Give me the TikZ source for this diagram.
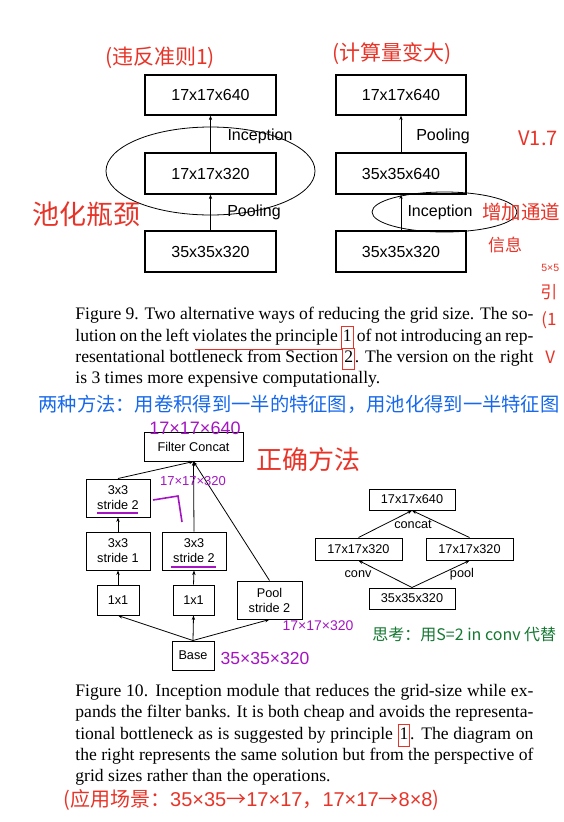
\documentclass[tikz,border=0pt]{standalone}
\usepackage{fontspec}
\setmainfont{Liberation Serif}
\setsansfont{Liberation Sans}
\newfontfamily\cjk{Noto Sans CJK SC}
\usetikzlibrary{arrows.meta}
\definecolor{penred}{RGB}{232,52,40}
\definecolor{penblue}{RGB}{22,104,236}
\definecolor{penpurple}{RGB}{165,20,195}
\definecolor{pengreen}{RGB}{20,120,50}
\newcommand{\linkbox}[1]{{\setlength{\fboxsep}{0.8pt}\setlength{\fboxrule}{1pt}\color{penred}\fbox{\color{black}\rule[-6pt]{0pt}{19pt}#1}}}
\begin{document}
\begin{tikzpicture}[x=1pt,y=-1pt,>={Stealth[length=4.5pt,width=3.4pt]},line width=0.8pt,
  blk9/.style={draw,line width=1.2pt,inner sep=0pt,font=\sffamily\fontsize{16}{19}\selectfont},
  blk10/.style={draw,line width=1pt,inner sep=0pt,align=center,font=\sffamily\fontsize{12.7}{15}\selectfont},
  lbl9/.style={inner sep=0pt,font=\sffamily\fontsize{16}{19}\selectfont},
  lbl10/.style={inner sep=0pt,font=\sffamily\fontsize{12.7}{15}\selectfont},
  capline/.style={anchor=base west,inner sep=0pt,font=\fontsize{17.6}{21}\selectfont},
  pen/.style={inner sep=0pt,font=\cjk\fontsize{#1}{#1}\selectfont},
  num/.style={inner sep=0pt,text=penpurple,font=\sffamily\fontsize{#1}{#1}\selectfont}]
  \fill[white] (0,0) rectangle (563,822);
  \useasboundingbox (0,0) rectangle (563,822);

  % Figure 9, links
  \node[blk9,minimum width=131pt,minimum height=40pt] (lTop) at (210.5,95) {17x17x640};
  \node[blk9,minimum width=131pt,minimum height=41pt] (lMid) at (210.5,173.5) {17x17x320};
  \node[blk9,minimum width=131pt,minimum height=41pt] (lBot) at (210.5,251.5) {35x35x320};
  \node[lbl9] (lInc) at (260,136) {Inception};
  \node[lbl9] (lPool) at (254,212) {Pooling};
  \draw[->] (lBot.north) -- (lMid.south);
  \draw[->] (lMid.north) -- (lTop.south);
  \draw (210.5,171) ellipse (104.5 and 44);

  % Figure 9, rechts
  \node[blk9,minimum width=130pt,minimum height=40pt] (rTop) at (401,95) {17x17x640};
  \node[blk9,minimum width=130pt,minimum height=41pt] (rMid) at (401,173.5) {35x35x640};
  \node[blk9,minimum width=130pt,minimum height=41pt] (rBot) at (401,251.5) {35x35x320};
  \node[lbl9] (rPool) at (443,136) {Pooling};
  \node[lbl9] (rInc) at (440,212) {Inception};
  \draw[->] (rBot.north) -- (rMid.south);
  \draw[->] (rMid.north) -- (rTop.south);
  \draw (444.5,212) ellipse (72.5 and 20);

  % Bildunterschrift 9
  \node[capline] (capA1) at (75,319) {\makebox[458pt][s]{Figure 9. Two alternative ways of reducing the grid size. The so-}};
  \node[capline] (capA2) at (75,341) {\makebox[458pt][s]{lution on the left violates the principle \linkbox{1} of not introducing an rep-}};
  \node[capline] (capA3) at (75,362.5) {\makebox[458pt][s]{resentational bottleneck from Section \linkbox{2}. The version on the right}};
  \node[capline] (capA4) at (75,383) {is 3 times more expensive computationally.};
  \draw[penred,line width=1pt] (195,349) -- (342,349);

  % Figure 10, Module
  \node[blk10,minimum width=99pt,minimum height=29pt] (concat) at (193.5,446.5) {Filter Concat};
  \node[blk10,minimum width=64pt,minimum height=38pt] (cA3) at (118,498) {3x3\\stride 2};
  \node[blk10,minimum width=64pt,minimum height=38pt] (cA2) at (118,551) {3x3\\stride 1};
  \node[blk10,minimum width=64pt,minimum height=38pt] (cB2) at (194,551) {3x3\\stride 2};
  \node[blk10,minimum width=42pt,minimum height=30pt] (cA1) at (118,600) {1x1};
  \node[blk10,minimum width=41pt,minimum height=30pt] (cB1) at (193.5,600) {1x1};
  \node[blk10,minimum width=65pt,minimum height=38pt] (pool) at (269.5,600) {Pool\\stride 2};
  \node[blk10,minimum width=42pt,minimum height=29pt] (base) at (193,655.5) {Base};
  \draw[->] (base.north) -- (cA1.south);
  \draw[->] (base.north) -- (cB1.south);
  \draw[->] (base.north) -- (pool.south);
  \draw[->] (cA1.north) -- (cA2.south);
  \draw[->] (cA2.north) -- (cA3.south);
  \draw[->] (cB1.north) -- (cB2.south);
  \draw[->] (cA3.north) -- (concat.south);
  \draw[->] (cB2.north) -- (concat.south);
  \draw[->] (pool.north) -- (concat.south);

  % Figure 10, Gittergroessen
  \node[blk10,minimum width=86pt,minimum height=21pt] (g640) at (412,499.5) {17x17x640};
  \node[blk10,minimum width=87pt,minimum height=22pt] (gConv) at (358.5,549) {17x17x320};
  \node[blk10,minimum width=87pt,minimum height=22pt] (gPool) at (469.5,549) {17x17x320};
  \node[blk10,minimum width=86pt,minimum height=21pt] (g320) at (412,598.5) {35x35x320};
  \draw[->] (g320.north) -- (gConv.south);
  \draw[->] (g320.north) -- (gPool.south);
  \draw[->] (gConv.north) -- (g640.south);
  \draw[->] (gPool.north) -- (g640.south);
  \node[lbl10] (tConcat) at (413,524) {concat};
  \node[lbl10] (tConv) at (358,574) {conv};
  \node[lbl10] (tPool) at (462,574) {pool};

  % Bildunterschrift 10
  \node[capline] (capB1) at (75,696.7) {\makebox[458pt][s]{Figure 10. Inception module that reduces the grid-size while ex-}};
  \node[capline] (capB2) at (75,717.7) {\makebox[458pt][s]{pands the filter banks. It is both cheap and avoids the representa-}};
  \node[capline] (capB3) at (75,739) {\makebox[458pt][s]{tional bottleneck as is suggested by principle \linkbox{1}. The diagram on}};
  \node[capline] (capB4) at (75,760) {\makebox[458pt][s]{the right represents the same solution but from the perspective of}};
  \node[capline] (capB5) at (75,781) {grid sizes rather than the operations.};

  % Notizen rot
  \node[pen=21,text=penred] (nViol) at (160,58) {(违反准则1)};
  \node[pen=21,text=penred] (nCost) at (392,54) {(计算量变大)};
  \node[pen=27,text=penred] (nNeck) at (86,214) {池化瓶颈};
  \node[pen=19.5,text=penred,anchor=west] (nChan) at (482,212) {增加通道};
  \node[pen=17,text=penred] (nInfo) at (505,245) {信息};
  \node[pen=20,text=penred,anchor=west] (nVer) at (518,138) {V1.7};
  \node[inner sep=0pt,text=penred,font=\sffamily\fontsize{10.5}{10.5}\selectfont,anchor=west] (nFive) at (541,268) {5×5};
  \node[pen=17,text=penred,anchor=west] (nYin) at (540,292) {引};
  \node[pen=17,text=penred,anchor=west] (nOne) at (541,320) {(1};
  \node[pen=17,text=penred,anchor=west] (nV) at (545,357) {V};
  \node[pen=26,text=penred] (nRight) at (308,460) {正确方法};
  \node[pen=20,text=penred,anchor=west] (nUse) at (63,800) {(应用场景：{\sffamily 35×35}→{\sffamily 17×17}，{\sffamily 17×17}→{\sffamily 8×8})};

  % Notizen blau, lila, gruen
  \node[pen=19.3,text=penblue,anchor=west] (nTwo) at (38,404) {两种方法：用卷积得到一半的特征图，用池化得到一半特征图};
  \node[num=18] (sOut) at (195,428) {17×17×640};
  \node[num=13] (sConv) at (193,481) {17×17×320};
  \node[num=14] (sPool) at (318,626) {17×17×320};
  \node[num=17.5] (sBase) at (265,658) {35×35×320};
  \draw[penpurple,line width=1.2pt] (97,513) -- (138,513);
  \draw[penpurple,line width=1.2pt] (171,567) -- (216,567);
  \draw[penpurple,line width=1.6pt] (153,500) -- (178,496) -- (182,522);
  \node[pen=16,text=pengreen,anchor=west] (nThink) at (372,634) {思考：用S=2 in conv 代替};
\end{tikzpicture}
\end{document}
